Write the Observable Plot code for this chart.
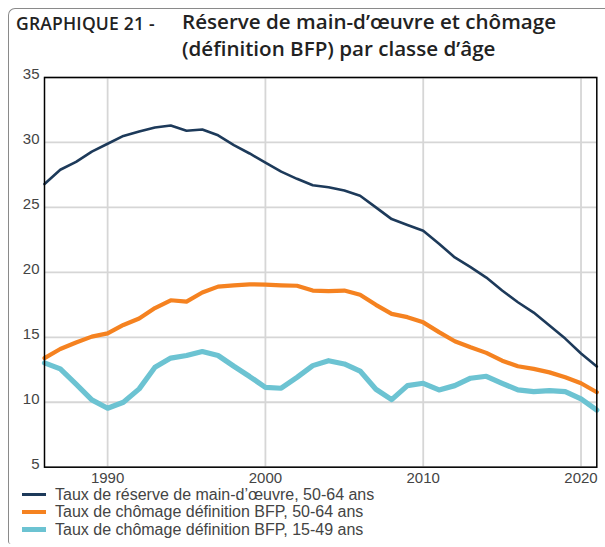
<!DOCTYPE html>
<html><head><meta charset="utf-8">
<script src="https://cdn.jsdelivr.net/npm/d3@7"></script>
<script src="https://cdn.jsdelivr.net/npm/@observablehq/plot@0.6"></script>
<style>
html,body{margin:0;padding:0;background:#fff;}
#wrap{position:relative;width:605px;height:547px;overflow:hidden;font-family:"Liberation Sans",Arial,sans-serif;}
#box{position:absolute;left:8px;top:8px;width:700px;height:535px;border-left:1.3px solid #8a8a8a;border-top:1.3px solid #8a8a8a;border-top-left-radius:7px;border-bottom-left-radius:3px;}
#t1{position:absolute;left:16px;top:11px;font-family:"Open Sans",sans-serif;font-weight:600;font-size:17.5px;color:#222;white-space:nowrap;letter-spacing:0.2px;}
#t2{position:absolute;left:182px;top:8px;font-family:"Open Sans",sans-serif;font-weight:600;font-size:20.6px;line-height:26.5px;color:#222;white-space:nowrap;}
#chart{position:absolute;left:0;top:65px;}
#legend{position:absolute;left:22px;top:486px;font-size:16px;color:#444;}
.row{display:flex;align-items:center;height:17.5px;white-space:nowrap;}
.sw{width:24px;margin-right:9px;}
</style></head>
<body>
<div id="wrap">
<div id="box"></div>
<div id="t1">GRAPHIQUE 21 -</div>
<div id="t2">Réserve de main-d’œuvre et chômage<br>(définition BFP) par classe d’âge</div>
<div id="chart"></div>
<div id="legend"></div>
</div>
<script>
const years = [1986,1987,1988,1989,1990,1991,1992,1993,1994,1995,1996,1997,1998,1999,2000,2001,2002,2003,2004,2005,2006,2007,2008,2009,2010,2011,2012,2013,2014,2015,2016,2017,2018,2019,2020,2021];
const reserve5064 = [26.8,27.9,28.5,29.3,29.9,30.5,30.85,31.15,31.3,30.9,31.0,30.55,29.8,29.15,28.45,27.75,27.2,26.7,26.55,26.3,25.9,25.0,24.1,23.65,23.2,22.2,21.15,20.4,19.6,18.6,17.7,16.9,15.9,14.9,13.75,12.75];
const chomage5064 = [13.4,14.1,14.6,15.05,15.3,15.95,16.45,17.25,17.85,17.75,18.45,18.9,19.0,19.08,19.05,19.0,18.97,18.6,18.55,18.6,18.28,17.5,16.8,16.55,16.15,15.4,14.7,14.23,13.8,13.2,12.77,12.57,12.3,11.92,11.46,10.77];
const chomage1549 = [13.03,12.57,11.4,10.18,9.54,10.0,11.03,12.7,13.4,13.6,13.9,13.6,12.77,11.98,11.15,11.08,11.92,12.82,13.2,12.95,12.4,11.0,10.2,11.28,11.46,10.95,11.28,11.85,12.0,11.46,10.95,10.82,10.9,10.82,10.26,9.4];
const seriesNames = ["Taux de réserve de main-d’œuvre, 50-64 ans","Taux de chômage définition BFP, 50-64 ans","Taux de chômage définition BFP, 15-49 ans"];
const seriesColors = ["#1d3a5a","#f58220","#6cc3d2"];
const seriesWidths = [2.6,4.2,5.2];
const xTicks = [1990,2000,2010,2020];
const yTicks = [5,10,15,20,25,30,35];

const allValues = [reserve5064, chomage5064, chomage1549];
const data = [];
allValues.forEach((vals,i)=>vals.forEach((v,j)=>data.push({year:years[j],value:v,series:seriesNames[i]})));

const chart = Plot.plot({
  width:605, height:424,
  marginLeft:44, marginRight:8.7, marginTop:12, marginBottom:22.3,
  style:{fontFamily:'"Liberation Sans",Arial,sans-serif',fontSize:"15px",color:"#444",background:"transparent"},
  x:{domain:[1986,2021]},
  y:{domain:[5,35]},
  marks:[
    Plot.gridX(xTicks,{stroke:"#d6d6d6",strokeOpacity:1,strokeWidth:1.8}),
    Plot.gridY(yTicks,{stroke:"#d6d6d6",strokeOpacity:1,strokeWidth:1.8}),
    ...seriesNames.map((s,i)=>Plot.line(data.filter(d=>d.series===s),{x:"year",y:"value",stroke:seriesColors[i],strokeWidth:seriesWidths[i],strokeLinejoin:"round"})),
    Plot.frame({stroke:"#000",strokeWidth:1.5}),
    Plot.axisX(xTicks,{tickSize:0,tickPadding:5,tickFormat:d=>String(d),label:null,fontSize:15,fill:"#444"}),
    Plot.axisY(yTicks,{tickSize:0,tickPadding:5,label:null,fontSize:15,fill:"#444",dy:-3})
  ]
});
document.getElementById("chart").appendChild(chart);

const leg = document.getElementById("legend");
seriesNames.forEach((s,i)=>{
  const r=document.createElement("div");r.className="row";
  const sw=document.createElement("div");sw.className="sw";sw.style.height=(seriesWidths[i]*0.9+0.5)+"px";sw.style.background=seriesColors[i];
  const t=document.createElement("span");t.textContent=s;
  r.appendChild(sw);r.appendChild(t);leg.appendChild(r);
});
</script>
</body></html>
